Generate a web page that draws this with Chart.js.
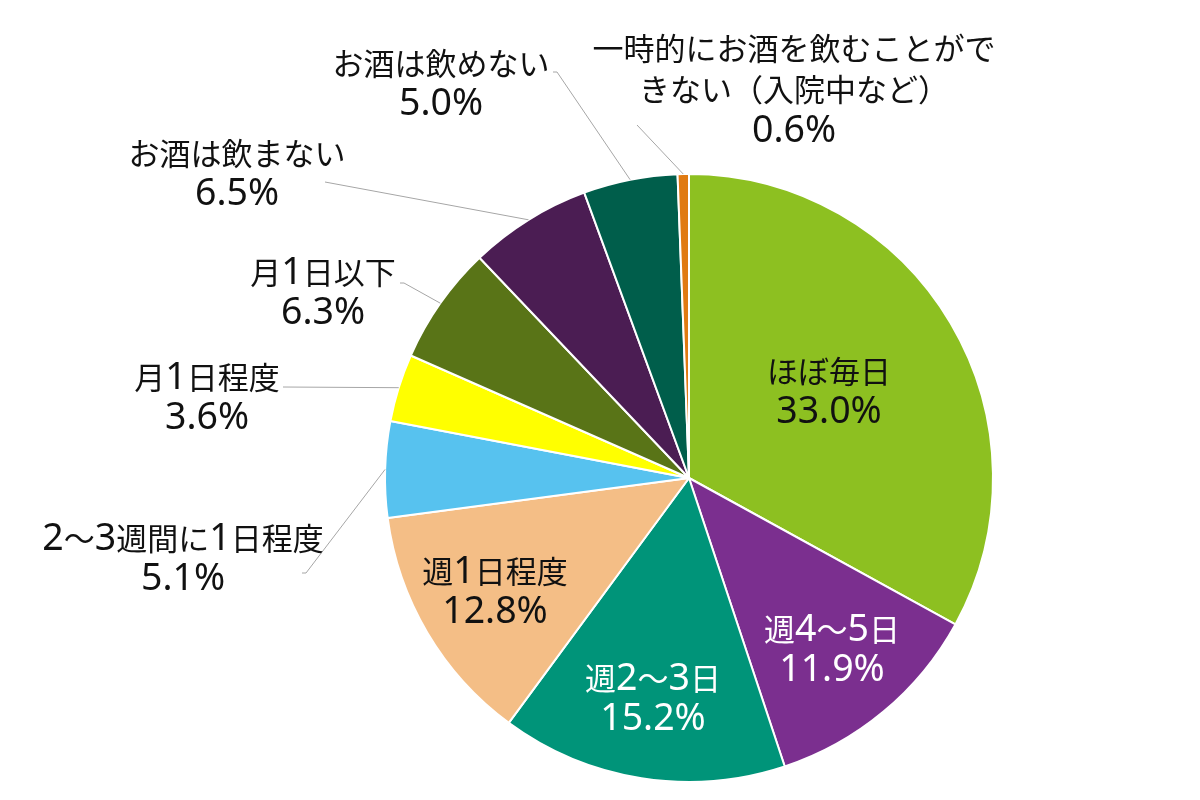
<!DOCTYPE html>
<html><head><meta charset="utf-8">
<script src="https://cdn.jsdelivr.net/npm/chart.js@4.4.1/dist/chart.umd.min.js"></script>
<style>html,body{margin:0;padding:0;background:#fff;}canvas{display:block;}</style>
</head><body>
<canvas id="c" width="1200" height="800"></canvas>
<script>
const categories = ['ほぼ毎日','週4～5日','週2～3日','週1日程度','2～3週間に1日程度','月1日程度','月1日以下','お酒は飲まない','お酒は飲めない','一時的にお酒を飲むことができない（入院中など）'];
const labelLines = [['ほぼ毎日'],['週4～5日'],['週2～3日'],['週1日程度'],['2～3週間に1日程度'],['月1日程度'],['月1日以下'],['お酒は飲まない'],['お酒は飲めない'],['一時的にお酒を飲むことがで','きない（入院中など）']];
const values = [33.0, 11.9, 15.2, 12.8, 5.1, 3.6, 6.3, 6.5, 5.0, 0.6];
const colors = ['#8DC021','#7B2F8F','#009479','#F4BE86','#57C2EF','#FFFF00','#597417','#4B1D53','#005E4B','#E07A12'];

// label layout: center x, first baseline y, text color, leader polyline start points (null = inside)
const labelLayout = [
  {x:829, y:383, color:'#111', lead:null},
  {x:832, y:641, color:'#fff', lead:null},
  {x:653, y:690, color:'#fff', lead:null},
  {x:495, y:583, color:'#111', lead:null},
  {x:183, y:550, color:'#111', lead:[[302,573],[306,573]]},
  {x:207, y:389, color:'#111', lead:[[283,387]]},
  {x:323, y:284, color:'#111', lead:[[400,283],[404,283]]},
  {x:237, y:165, color:'#111', lead:[[325,182]]},
  {x:441, y:75,  color:'#111', lead:[[553,72],[557,72]]},
  {x:794, y:60,  color:'#111', lead:[[637,125]]}
];
const LINE_H = 40;
const CJK_FONT = '31px "Noto Sans CJK JP", sans-serif';
const LAT_FONT = '37.5px "Noto Sans", "Noto Sans CJK JP", sans-serif';

function splitRuns(t){
  const runs=[]; let cur='', curLat=null;
  for(const ch of t){
    const lat = ch.charCodeAt(0) < 128;
    if(curLat===null || lat===curLat){cur+=ch; curLat=lat;}
    else {runs.push([cur,curLat]); cur=ch; curLat=lat;}
  }
  if(cur) runs.push([cur,curLat]);
  return runs;
}
function drawMixed(ctx, text, cx, by, color){
  const runs = splitRuns(text);
  let total=0;
  const w = runs.map(r=>{ctx.font = r[1]?LAT_FONT:CJK_FONT; const m=ctx.measureText(r[0]).width; total+=m; return m;});
  let x = cx - total/2;
  ctx.fillStyle=color; ctx.textAlign='left'; ctx.textBaseline='alphabetic';
  runs.forEach((r,i)=>{ctx.font = r[1]?LAT_FONT:CJK_FONT; ctx.fillText(r[0], x, by); x+=w[i];});
}

const labelPlugin = {
  id:'pieLabels',
  afterDraw(chart){
    const ctx = chart.ctx;
    const meta = chart.getDatasetMeta(0);
    ctx.save();
    meta.data.forEach((arc,i)=>{
      const L = labelLayout[i];
      if(L.lead){
        const mid=(arc.startAngle+arc.endAngle)/2;
        const ex = arc.x + arc.outerRadius*Math.cos(mid);
        const ey = arc.y + arc.outerRadius*Math.sin(mid);
        ctx.strokeStyle='#A6A6A6'; ctx.lineWidth=1;
        ctx.beginPath();
        ctx.moveTo(L.lead[0][0], L.lead[0][1]);
        for(let k=1;k<L.lead.length;k++) ctx.lineTo(L.lead[k][0], L.lead[k][1]);
        ctx.lineTo(ex, ey);
        ctx.stroke();
      }
      const lines = labelLines[i].concat([values[i].toFixed(1)+'%']);
      lines.forEach((t,k)=>drawMixed(ctx, t, L.x, L.y + k*(i===9?41:LINE_H), L.color));
    });
    ctx.restore();
  }
};

new Chart(document.getElementById('c'), {
  type:'pie',
  data:{labels:categories, datasets:[{data:values, backgroundColor:colors, borderColor:'#ffffff', borderWidth:2}]},
  options:{
    responsive:false, animation:false,
    layout:{padding:{left:384, right:206, top:173, bottom:17}},
    plugins:{legend:{display:false}, tooltip:{enabled:false}}
  },
  plugins:[labelPlugin]
});
</script>
</body></html>
